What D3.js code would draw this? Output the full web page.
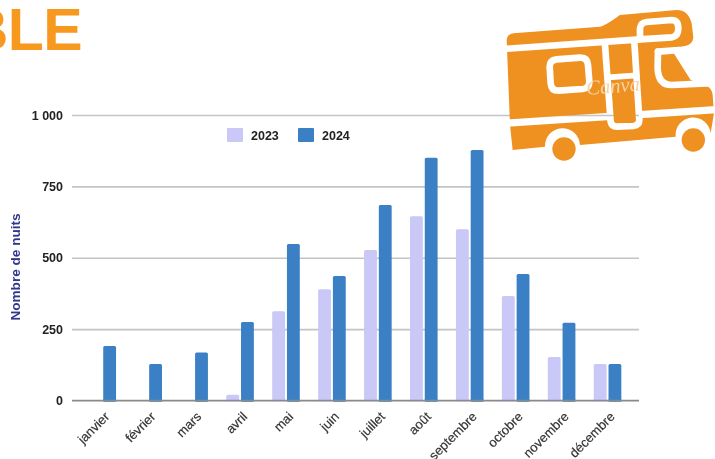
<!DOCTYPE html>
<html>
<head>
<meta charset="utf-8">
<script src="https://cdn.jsdelivr.net/npm/d3@7"></script>
<style>
html,body{margin:0;padding:0;background:#fff;overflow:hidden;}
svg{display:block;font-family:"Liberation Sans",Arial,sans-serif;}
.blurry{filter:blur(.45px);}
.ticks text{font-size:12.5px;font-weight:bold;fill:#222;}
.months text{font-size:13px;fill:#333;stroke:#333;stroke-width:.2px;}
.legend text{font-size:12.5px;font-weight:bold;fill:#222;}
</style>
</head>
<body>
<div id="chart"></div>
<script>
var months = ["janvier","février","mars","avril","mai","juin","juillet","août","septembre","octobre","novembre","décembre"];
var seriesNames = ["2023","2024"];
var nights2023 = [0,0,0,20,313,390,527,645,600,366,152,128];
var nights2024 = [191,128,168,275,548,436,685,850,877,443,272,128];
var yTicks = [0,250,500,750,1000];
var yTickLabels = ["0","250","500","750","1 000"];
var colors = {"2023":"#c9c8f7","2024":"#3b80c4"};
var orange = "#ee9120";

var width = 715, height = 459;
var svg = d3.select("#chart").append("svg").attr("width",width).attr("height",height);

var x = d3.scaleBand().domain(months).range([79.3,630.5]);
var xInner = d3.scaleBand().domain(seriesNames).range([-13.8,13.8]).paddingInner(.13);
var y = d3.scaleLinear().domain([0,1000]).range([400.5,115]);

var chart = svg.append("g").attr("class","blurry");

// title, cut by the left edge of the page
svg.append("text").attr("class","blurry")
	.attr("x",82).attr("y",50)
	.attr("text-anchor","end")
	.attr("font-size",59).attr("font-weight","bold")
	.attr("letter-spacing",-.6)
	.attr("fill","#f7991f")
	.text("BLE");

// grid + y labels
var yAxis = d3.axisLeft(y).tickValues(yTicks)
	.tickFormat(function(d,i){return yTickLabels[i];})
	.tickSize(-567).tickPadding(9);
var gy = chart.append("g").attr("class","ticks").attr("transform","translate(72,0)").call(yAxis);
gy.select(".domain").remove();
gy.selectAll("line").attr("stroke","#c4c4c4").attr("stroke-width",1.6);

// bars
var groups = chart.selectAll("g.month").data(months).enter().append("g")
	.attr("class","month")
	.attr("transform",function(d){return "translate("+(x(d)+x.bandwidth()/2)+",0)";});
seriesNames.forEach(function(name){
	var vals = name=="2023" ? nights2023 : nights2024;
	groups.filter(function(d,i){return vals[i]>0;})
		.append("rect")
		.attr("x",xInner(name))
		.attr("width",xInner.bandwidth())
		.attr("y",function(d){return y(vals[months.indexOf(d)]);})
		.attr("height",function(d){return y(0)-y(vals[months.indexOf(d)])+1;})
		.attr("rx",1.5)
		.attr("fill",colors[name]);
});

// baseline goes on top of the bars, only in the gaps
chart.append("line").attr("x1",72).attr("x2",639).attr("y1",y(0)).attr("y2",y(0))
	.attr("stroke","#8a8a8a").attr("stroke-width",1.6);
groups.each(function(d,i){
	var g = d3.select(this);
	if(nights2023[i]>0) g.append("rect").attr("x",xInner("2023")).attr("width",xInner.bandwidth()).attr("y",y(0)-1).attr("height",2).attr("fill",colors["2023"]);
	g.append("rect").attr("x",xInner("2024")).attr("width",xInner.bandwidth()).attr("y",y(0)-1).attr("height",2).attr("fill",colors["2024"]);
});

// x labels
var xAxis = d3.axisBottom(x).tickSize(0).tickPadding(0);
var gx = chart.append("g").attr("class","months").attr("transform","translate(0,"+y(0)+")").call(xAxis);
gx.select(".domain").remove();
gx.selectAll("text")
	.attr("text-anchor","end")
	.attr("dy",0).attr("y",0)
	.attr("transform","translate(8,17) rotate(-45)");

// y title
chart.append("text")
	.attr("transform","translate(20,267) rotate(-90)")
	.attr("text-anchor","middle")
	.attr("font-size",13.6).attr("font-weight","bold")
	.attr("fill","#33378a")
	.text("Nombre de nuits");

// legend
var legendX = d3.scaleOrdinal().domain(seriesNames).range([227,298]);
var legend = chart.selectAll("g.legend").data(seriesNames).enter().append("g")
	.attr("class","legend")
	.attr("transform",function(d){return "translate("+legendX(d)+",128)";});
legend.append("rect").attr("width",16).attr("height",14).attr("rx",1).attr("fill",function(d){return colors[d];});
legend.append("text").attr("x",24).attr("y",12).text(function(d){return d;});

// camper van logo, traced in px of a 3x crop of the corner
var icon = svg.append("g").attr("class","blurry").attr("transform","translate(490,0) scale(.3333)");
var mask = icon.append("mask").attr("id","cuts").attr("maskUnits","userSpaceOnUse")
	.attr("x",0).attr("y",0).attr("width",700).attr("height",520);
mask.append("rect").attr("width",700).attr("height",520).attr("fill","#fff");
var cut = mask.append("g").attr("fill","none").attr("stroke","#000").attr("stroke-linejoin","round").attr("stroke-linecap","round");
cut.append("path").attr("stroke-width",20).attr("d","M40,147 L450,118");
cut.append("path").attr("stroke-width",20).attr("d","M450,118 L450,85 Q452,68 470,66 L545,60 Q565,60 565,85 Q565,110 545,112 L450,118");
cut.append("path").attr("stroke-width",20).attr("d","M345,135 L362,365 Q365,380 380,380 L430,378 Q448,376 448,360 L433,125");
cut.append("path").attr("stroke-width",20).attr("d","M200,178 L270,173 Q292,172 294,195 L298,245 Q298,265 278,267 L205,272 Q184,272 182,250 L179,200 Q179,180 200,178 Z");
cut.append("path").attr("stroke-width",22).attr("d","M40,370 L350,350 M450,344 L690,328");
cut.append("path").attr("stroke-width",17).attr("d","M355,232 L440,226");
cut.append("path").attr("stroke-width",20).attr("d","M504,155 L503,205 Q505,255 545,255 L650,250");
cut.append("path").attr("stroke-width",20).attr("d","M504,155 L610,147");

var marks = icon.append("g").attr("mask","url(#cuts)").attr("fill",orange);
marks.append("path").attr("d","M50,120 Q52,102 70,100 L330,80 Q345,78 390,45 L560,30 Q595,30 605,70 L610,112 Q608,135 585,138 L545,150 L602,240 L648,258 Q665,262 668,285 L672,340 L662,400 A52,52 0 0 0 557,410 L270,435 A52,52 0 0 0 165,440 L68,450 L60,375 Z");
marks.append("circle").attr("cx",222).attr("cy",447).attr("r",35);
marks.append("circle").attr("cx",610).attr("cy",420).attr("r",35);
icon.append("text")
	.attr("transform","translate(290,285) rotate(-5)")
	.attr("font-family","'Liberation Serif',serif").attr("font-style","italic")
	.attr("font-size",62).attr("fill","#f6d3a6")
	.text("Canva");
</script>
</body>
</html>
